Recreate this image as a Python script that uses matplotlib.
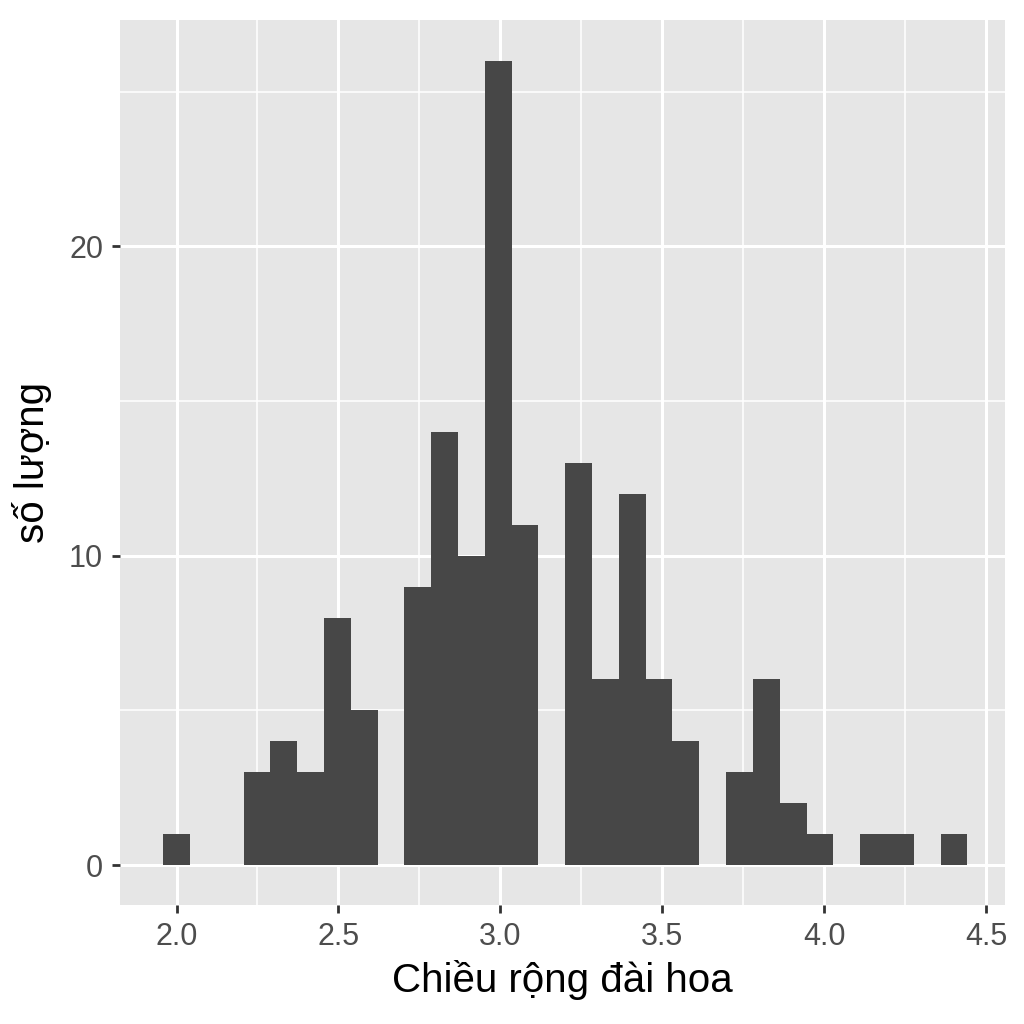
import matplotlib
matplotlib.use("Agg")
import matplotlib.pyplot as plt
import numpy as np

# iris sepal width histogram, 30 bins centred on the data range
bin_start = 2.0
bin_end = 4.4
counts = [1, 0, 0, 3, 4, 3, 8, 5, 0, 9, 14, 10, 26, 11, 0,
          13, 6, 12, 6, 4, 0, 3, 6, 2, 1, 0, 1, 1, 0, 1]
x_ticks = [2.0, 2.5, 3.0, 3.5, 4.0, 4.5]
y_ticks = [0, 10, 20]
x_label = "Chiều rộng đài hoa"
y_label = "số lượng"

n_bins = len(counts)
width = (bin_end - bin_start) / (n_bins - 1)
centers = bin_start + width * np.arange(n_bins)

plt.rcParams["font.family"] = ["Liberation Sans", "DejaVu Sans"]

fig = plt.figure(figsize=(10.24, 10.24), dpi=100)
ax = fig.add_axes([0.117, 0.116, 0.864, 0.864])
ax.set_facecolor("#E6E6E6")
ax.bar(centers, counts, width=width, color="#474747", linewidth=0, zorder=3)

ax.set_xlim(1.825, 4.556)
ax.set_ylim(-max(counts) * 0.05, max(counts) * 1.05)

ax.set_xticks(x_ticks)
ax.set_xticklabels([f"{v:.1f}" for v in x_ticks])
ax.set_yticks(y_ticks)
ax.set_xticks([2.25, 2.75, 3.25, 3.75, 4.25], minor=True)
ax.set_yticks([5, 15, 25], minor=True)

ax.grid(which="major", color="white", linewidth=2.2, zorder=1)
ax.grid(which="minor", color="white", linewidth=1.1, zorder=1)
ax.set_axisbelow(True)
for s in ax.spines.values():
    s.set_visible(False)

ax.tick_params(axis="both", which="major", length=6, width=2, color="#333333",
               labelsize=22, labelcolor="#4D4D4D", pad=6)
ax.tick_params(axis="both", which="minor", length=0)

ax.set_xlabel(x_label, fontsize=29, color="black", labelpad=6)
ax.set_ylabel(y_label, fontsize=29, color="black", labelpad=12)

fig.savefig("out.png", dpi=100)
plt.close(fig)
